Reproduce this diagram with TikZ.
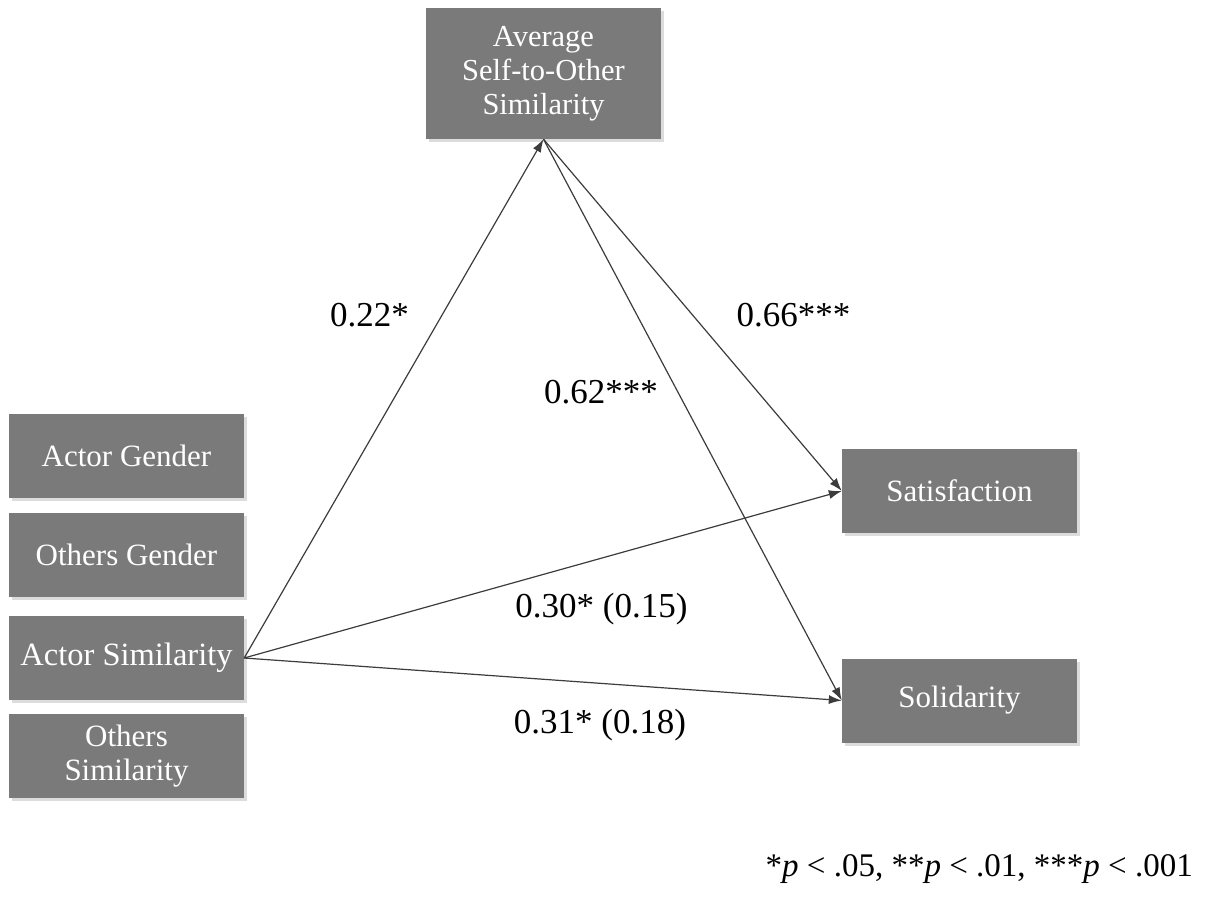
\documentclass[tikz,border=0pt]{standalone}
\usepackage{fontspec}
\setmainfont{Liberation Serif}
\usetikzlibrary{shadows,arrows.meta}
\definecolor{boxgray}{RGB}{122,122,122}
\definecolor{linegray}{RGB}{60,60,60}
\begin{document}
\begin{tikzpicture}[x=1pt,y=-1pt,
  varbox/.style={fill=boxgray,text=white,minimum width=235pt,minimum height=84pt,
    inner sep=0pt,align=center,font=\fontsize{31}{34}\selectfont,
    drop shadow={opacity=0.28,shadow xshift=2.5pt,shadow yshift=-3pt}},
  path/.style={draw=linegray,line width=1.2pt,-{Latex[length=13pt,width=9pt]}},
  coef/.style={anchor=base,font=\fontsize{35}{38}\selectfont,inner sep=0pt}]
\useasboundingbox (0,0) rectangle (1211,902);
\node[varbox] (ag) at (126.5,456) {Actor Gender};
\node[varbox] (og) at (126.5,555) {Others Gender};
\node[varbox,font=\fontsize{32.5}{35}\selectfont] (as) at (126.5,658) {Actor Similarity};
\node[varbox] (os) at (126.5,756) {Others\\Similarity};
\node[varbox,minimum height=131pt,font=\fontsize{30.5}{34}\selectfont] (top) at (543.5,73.5) {Average\\Self-to-Other\\Similarity};
\node[varbox] (sat) at (959.5,491) {Satisfaction};
\node[varbox] (sol) at (959.5,700.5) {Solidarity};
\draw[path] (as.east) -- (top.south);
\draw[path] (as.east) -- (sat.west);
\draw[path] (as.east) -- (sol.west);
\draw[path] (top.south) -- (sat.west);
\draw[path] (top.south) -- (sol.west);
\node[coef] (l1) at (369.5,326) {0.22*};
\node[coef] (l2) at (793.5,326) {0.66***};
\node[coef] (l3) at (601,403) {0.62***};
\node[coef] (l4) at (601.5,617) {0.30* (0.15)};
\node[coef] (l5) at (600,733) {0.31* (0.18)};
\node[anchor=base east,inner sep=0pt,font=\fontsize{33}{36}\selectfont] (note) at (1193,876)
  {*\textit{p} < .05, **\textit{p} < .01, ***\textit{p} < .001};
\end{tikzpicture}
\end{document}
